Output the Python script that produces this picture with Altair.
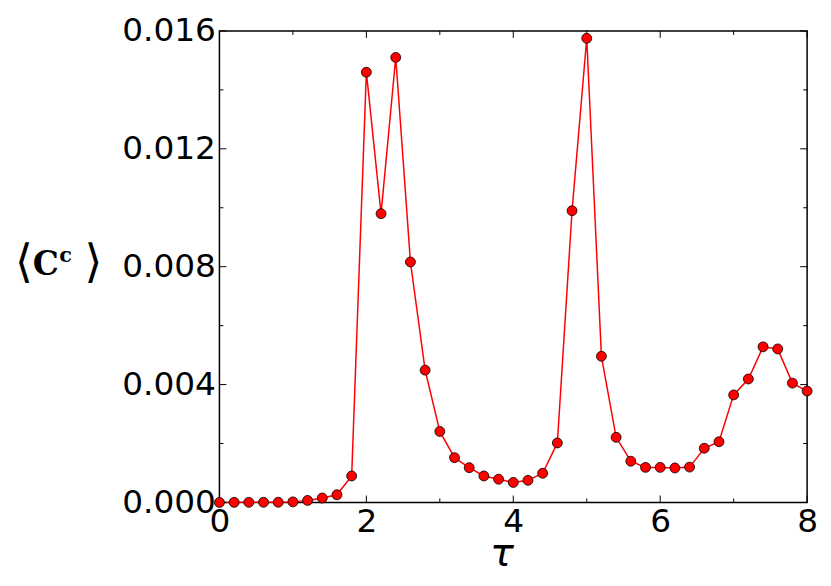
import altair as alt
import pandas as pd

tau = [round(0.2 * i, 1) for i in range(41)]
cc = [0.0, 0.000003, 0.000004, 0.000005, 0.000007, 0.00002, 0.00007, 0.00015, 0.00026, 0.0009,
      0.0146, 0.0098, 0.0151, 0.00816, 0.00449, 0.00241, 0.00152, 0.00118, 0.0009, 0.00079,
      0.00068, 0.00075, 0.00099, 0.00202, 0.0099, 0.01575, 0.00496, 0.00221, 0.0014, 0.00119,
      0.00119, 0.00117, 0.0012, 0.00184, 0.00206, 0.00365, 0.00419, 0.00528, 0.00521, 0.00405,
      0.00378]

x_major = [0, 2, 4, 6, 8]
x_minor = [1, 3, 5, 7]
y_major = [0.0, 0.004, 0.008, 0.012, 0.016]
y_minor = [0.002, 0.006, 0.010, 0.014]

W, H = 592, 475
MAJ, MIN = 7, 4

df = pd.DataFrame({"tau": tau, "cc": cc})

xs = alt.Scale(domain=[0, 8], nice=False, zero=False)
ys = alt.Scale(domain=[0, 0.016], nice=False, zero=False)

xaxis = alt.Axis(values=x_major, format="d", ticks=False, domain=False, grid=False,
                 labelFont="DejaVu Sans", labelFontSize=33, labelColor="black",
                 labelPadding=3, title="τ", titleFont="DejaVu Sans",
                 titleFontStyle="italic", titleFontWeight="normal", titleFontSize=40,
                 titleX=284, titlePadding=-5, labelFlush=False)
yaxis = alt.Axis(values=y_major, format=".3f", ticks=False, domain=False, grid=False,
                 labelFont="DejaVu Sans", labelFontSize=33, labelColor="black",
                 labelPadding=4, title=None, labelFlush=False)

line = alt.Chart(df).mark_line(color="#ff0000", strokeWidth=1.5, clip=False).encode(
    x=alt.X("tau:Q", scale=xs, axis=xaxis),
    y=alt.Y("cc:Q", scale=ys, axis=yaxis),
)
pts = alt.Chart(df).mark_point(filled=True, shape="circle", size=100, fill="#ff0000",
                               stroke="black", strokeWidth=0.8, opacity=1).encode(
    x=alt.X("tau:Q", scale=xs), y=alt.Y("cc:Q", scale=ys))


def xticks(vals, length):
    d = pd.DataFrame({"v": vals})
    b = alt.Chart(d).mark_rule(color="black", strokeWidth=1).encode(
        x=alt.X("v:Q", scale=xs), y=alt.value(H), y2=alt.value(H - length))
    t = alt.Chart(d).mark_rule(color="black", strokeWidth=1).encode(
        x=alt.X("v:Q", scale=xs), y=alt.value(0), y2=alt.value(length))
    return [b, t]


def yticks(vals, length):
    d = pd.DataFrame({"v": vals})
    l = alt.Chart(d).mark_rule(color="black", strokeWidth=1).encode(
        y=alt.Y("v:Q", scale=ys), x=alt.value(0), x2=alt.value(length))
    r = alt.Chart(d).mark_rule(color="black", strokeWidth=1).encode(
        y=alt.Y("v:Q", scale=ys), x=alt.value(W), x2=alt.value(W - length))
    return [l, r]


one = pd.DataFrame({"a": [0]})


def txt(s, x, y, size, font, weight="normal"):
    return alt.Chart(one).mark_text(text=s, font=font, fontSize=size, fontWeight=weight,
                                    color="black", align="center", baseline="middle").encode(
        x=alt.value(x), y=alt.value(y))


title_parts = [
    txt("⟨", -197, 234, 46, "DejaVu Sans"),
    txt("C", -175, 236, 33, "DejaVu Serif", "bold"),
    txt("c", -155, 227, 21, "DejaVu Serif", "bold"),
    txt("⟩", -127, 234, 46, "DejaVu Sans"),
]

layers = [line] + xticks(x_major, MAJ) + xticks(x_minor, MIN) + yticks(y_major, MAJ) + \
    yticks(y_minor, MIN) + [pts] + title_parts

chart = alt.layer(*layers).properties(
    width=W, height=H, background="white",
    padding={"left": 7, "top": 5, "right": 5, "bottom": 5}
).configure_view(stroke="black", strokeWidth=1.5)

chart.save("out.html", embed_options={"renderer": "svg", "actions": False})
